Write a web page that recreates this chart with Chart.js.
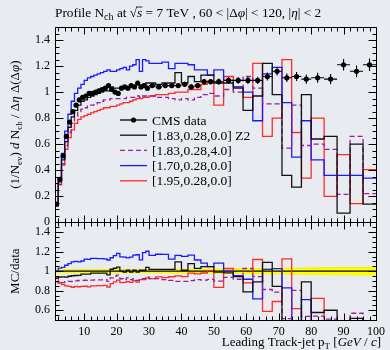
<!DOCTYPE html>
<html>
<head>
<meta charset="utf-8">
<script src="https://cdn.jsdelivr.net/npm/chart.js@4"></script>
<style>
  html, body { margin: 0; padding: 0; background: #e8ecf0; }
  #plot { display: block; }
</style>
</head>
<body>
<canvas id="plot" width="390" height="350"></canvas>
<script>
// leading track-jet pT bins (GeV/c)
const binEdges = [1, 2, 3, 4, 5, 6, 7, 8, 9, 10, 11, 12, 13, 14, 15, 16, 17, 18, 19, 20,
  21, 22, 23, 24, 25, 26, 27, 28, 29, 30, 32, 34, 36, 38, 40, 42, 44, 46, 48, 50,
  53, 56, 59, 62, 65, 68, 71, 74, 77, 80, 84, 88, 92, 96, 100];

// CMS profile and its uncertainty
const cmsData = [0.14, 0.33, 0.51, 0.66, 0.77, 0.85, 0.90, 0.94, 0.96, 0.97,
  0.99, 0.99, 1.00, 1.01, 1.02, 1.03, 1.05, 1.02, 1.00, 0.99,
  1.03, 1.04, 1.03, 1.05, 1.04, 1.07, 1.04, 1.05, 1.03,
  1.05, 1.04, 1.05, 1.05, 1.05, 1.06, 1.04, 1.05, 1.08, 1.08,
  1.08, 1.09, 1.09, 1.09, 1.09, 1.12, 1.16, 1.11, 1.12, 1.10,
  1.11, 1.10, 1.21, 1.16, 1.21];
const cmsErr = [0.002, 0.005, 0.008, 0.010, 0.012, 0.013, 0.014, 0.014, 0.015, 0.015,
  0.015, 0.015, 0.016, 0.016, 0.016, 0.016, 0.017, 0.016, 0.016, 0.016,
  0.017, 0.017, 0.017, 0.017, 0.017, 0.018, 0.018, 0.018, 0.018,
  0.018, 0.018, 0.019, 0.019, 0.019, 0.020, 0.020, 0.020, 0.021, 0.021,
  0.024, 0.025, 0.026, 0.027, 0.028, 0.030, 0.032, 0.033, 0.034, 0.035,
  0.038, 0.040, 0.045, 0.045, 0.048];

// MC predictions
const z2 = [0.13, 0.31, 0.48, 0.62, 0.73, 0.81, 0.86, 0.90, 0.93, 0.94,
  0.96, 0.97, 0.98, 0.99, 1.00, 1.01, 1.01, 1.04, 1.03, 1.03,
  1.03, 1.03, 1.04, 1.04, 1.05, 1.06, 1.05, 1.06, 1.07,
  1.07, 1.06, 1.07, 1.07, 1.15, 1.07, 1.12, 1.08, 1.13, 1.13,
  1.07, 1.07, 1.03, 0.86, 0.97, 1.22, 0.98, 0.36, 0.27, 0.98,
  0.64, 0.66, 0.07, 0.60, 0.14];
const z2Pt4 = [0.125, 0.29, 0.45, 0.59, 0.69, 0.76, 0.81, 0.85, 0.87, 0.88,
  0.90, 0.90, 0.91, 0.92, 0.93, 0.94, 0.94, 0.95, 0.95, 0.95,
  0.95, 0.95, 0.96, 0.96, 0.96, 0.97, 0.96, 0.97, 0.97,
  0.97, 0.96, 0.96, 0.95, 0.94, 0.95, 0.94, 0.96, 0.98, 0.99,
  0.97, 1.02, 1.00, 1.12, 1.03, 0.91, 0.91, 0.57, 0.90, 0.59,
  0.60, 0.56, 0.215, 0.66, 0.22];
const tune170 = [0.14, 0.34, 0.53, 0.70, 0.83, 0.93, 0.99, 1.03, 1.06, 1.09,
  1.11, 1.12, 1.13, 1.14, 1.15, 1.16, 1.17, 1.16, 1.16, 1.17,
  1.18, 1.19, 1.17, 1.20, 1.21, 1.25, 1.16, 1.25, 1.24,
  1.22, 1.22, 1.23, 1.18, 1.22, 1.22, 1.21, 1.17, 1.17, 1.13,
  1.17, 1.09, 1.04, 1.00, 0.78, 1.14, 1.19, 0.92, 0.50, 0.78,
  0.48, 0.36, 0.36, 0.36, 0.34];
const tune195 = [0.13, 0.29, 0.44, 0.56, 0.65, 0.71, 0.76, 0.79, 0.81, 0.82,
  0.83, 0.84, 0.85, 0.86, 0.87, 0.88, 0.88, 0.89, 0.89, 0.90,
  0.91, 0.92, 0.92, 0.93, 0.94, 0.95, 0.95, 0.96, 0.96,
  0.97, 0.98, 0.98, 0.99, 1.00, 1.00, 1.02, 1.02, 1.06, 1.085,
  0.90, 1.12, 1.04, 0.96, 1.22, 0.66, 0.80, 1.25, 0.69, 0.34,
  0.80, 0.20, 0.52, 0.144, 0.405];

const xTicks = [10, 20, 30, 40, 50, 60, 70, 80, 90, 100];
const yTicks = [0, 0.2, 0.4, 0.6, 0.8, 1, 1.2, 1.4];
const ratioTicks = [0.6, 0.8, 1, 1.2, 1.4];

const serif = '"Liberation Serif", "DejaVu Serif", serif';
const bg = '#e8ecf0';

const mcSeries = [
  { label: '[1.83,0.28,0.0] Z2', values: z2, color: '#111111', dash: [] },
  { label: '[1.83,0.28,4.0]', values: z2Pt4, color: '#9a1f9a', dash: [5, 3] },
  { label: '[1.70,0.28,0.0]', values: tune170, color: '#1a1aff', dash: [] },
  { label: '[1.95,0.28,0.0]', values: tune195, color: '#ff2a2a', dash: [] }
];

const centers = binEdges.slice(0, -1).map((lo, i) => (lo + binEdges[i + 1]) / 2);

// points on the left bin edges plus a closing point, drawn with stepped lines
function stepLine(values) {
  const pts = values.map((v, i) => ({ x: binEdges[i], y: v }));
  pts.push({ x: binEdges[binEdges.length - 1], y: values[values.length - 1] });
  return pts;
}
const overData = values => values.map((v, i) => v / cmsData[i]);

const datasets = [];
datasets.push({
  legendText: 'CMS data', isData: true,
  data: centers.map((x, i) => ({ x: x, y: cmsData[i] })),
  yAxisID: 'y', showLine: false, order: 0,
  pointRadius: 2.6, pointBackgroundColor: '#000', pointBorderWidth: 0,
  borderColor: '#000'
});
mcSeries.forEach((s, k) => {
  datasets.push({
    legendText: s.label,
    data: stepLine(s.values), yAxisID: 'y', stepped: 'before',
    borderColor: s.color, borderWidth: 1.3, borderDash: s.dash,
    pointRadius: 0, fill: false, order: 1 + k
  });
});
// data uncertainty band in the ratio panel
datasets.push({
  data: stepLine(cmsData.map((d, i) => 1 + cmsErr[i] / d)), yAxisID: 'yRatio', stepped: 'before',
  borderColor: '#f2f200', borderWidth: 1, pointRadius: 0,
  fill: '+1', backgroundColor: '#ffff00', order: 20
});
datasets.push({
  data: stepLine(cmsData.map((d, i) => 1 - cmsErr[i] / d)), yAxisID: 'yRatio', stepped: 'before',
  borderColor: '#f2f200', borderWidth: 1, pointRadius: 0, fill: false, order: 21
});
datasets.push({
  data: stepLine(overData(cmsData)), yAxisID: 'yRatio', stepped: 'before',
  borderColor: '#000', borderWidth: 1.3, pointRadius: 0, fill: false, order: 15
});
mcSeries.forEach((s, k) => {
  datasets.push({
    data: stepLine(overData(s.values)), yAxisID: 'yRatio', stepped: 'before',
    borderColor: s.color, borderWidth: 1.3, borderDash: s.dash,
    pointRadius: 0, fill: false, order: 5 + k
  });
});

// text made of plain, italic and subscript pieces
function fontFor(p, size) {
  const st = p[1] || '';
  const sz = st.includes('s') ? Math.round(size * 0.72) : size;
  return (st.includes('i') ? 'italic ' : '') + sz + 'px ' + serif;
}
function richWidth(ctx, parts, size) {
  let w = 0;
  parts.forEach(p => {
    ctx.font = fontFor(p, size);
    w += ctx.measureText(p[0]).width;
  });
  return w;
}
function drawRich(ctx, parts, x, y, size, align) {
  let cx = x;
  if (align === 'center') cx -= richWidth(ctx, parts, size) / 2;
  if (align === 'right') cx -= richWidth(ctx, parts, size);
  ctx.textBaseline = 'alphabetic';
  ctx.textAlign = 'left';
  parts.forEach(p => {
    const st = p[1] || '';
    ctx.font = fontFor(p, size);
    const w = ctx.measureText(p[0]).width;
    const dy = st.includes('s') ? size * 0.25 : 0;
    ctx.fillText(p[0], cx, y + dy);
    if (st.includes('o')) {
      ctx.fillRect(cx - 1, y - size * 0.78, w + 1, 0.8);
    }
    cx += w;
  });
}

const titleParts = [['Profile N'], ['ch', 's'], [' at \u221A'], ['s', 'io'], [' = 7 TeV , 60 < |\u0394'],
  ['\u03C6', 'i'], ['| < 120, |'], ['\u03B7', 'i'], ['| < 2']];
const yTitleParts = [['(1/N'], ['ev', 's'], [') '], ['d', 'i'], [' N'], ['ch', 's'], [' / \u0394'],
  ['\u03B7', 'i'], [' \u0394(\u0394'], ['\u03C6', 'i'], [')']];
const xTitleParts = [['Leading Track-jet p'], ['T', 's'], [' ['], ['GeV', 'i'], [' / '], ['c', 'i'], [']']];

const backgroundPlugin = {
  id: 'paper',
  beforeDraw(chart) {
    const ctx = chart.ctx;
    ctx.save();
    ctx.fillStyle = bg;
    ctx.fillRect(0, 0, chart.width, chart.height);
    ctx.restore();
  }
};

// error bars, frames, inward ticks, legend and titles
const decorPlugin = {
  id: 'decor',
  afterDatasetsDraw(chart) {
    const { ctx, chartArea: ca, scales } = chart;
    const xs = scales.x, ys = scales.y;
    ctx.save();
    ctx.strokeStyle = '#000';
    ctx.lineWidth = 1.1;
    ctx.beginPath();
    centers.forEach((c, i) => {
      const px = xs.getPixelForValue(c);
      const py = ys.getPixelForValue(cmsData[i]);
      ctx.moveTo(xs.getPixelForValue(binEdges[i]), py);
      ctx.lineTo(xs.getPixelForValue(binEdges[i + 1]), py);
      ctx.moveTo(px, ys.getPixelForValue(cmsData[i] - cmsErr[i]));
      ctx.lineTo(px, ys.getPixelForValue(cmsData[i] + cmsErr[i]));
    });
    ctx.stroke();

    ctx.lineWidth = 1;
    const left = Math.round(ca.left) + 0.5, right = Math.round(ca.right) + 0.5;
    [[scales.y, yTicks], [scales.yRatio, ratioTicks]].forEach(([sc, majors]) => {
      const top = Math.round(sc.top) + 0.5, bottom = Math.round(sc.bottom) + 0.5;
      ctx.strokeRect(left, top, right - left, bottom - top);
      ctx.beginPath();
      for (let v = 2; v <= 100; v += 2) {
        const len = v % 10 === 0 ? 7 : 4;
        const px = Math.round(xs.getPixelForValue(v)) + 0.5;
        ctx.moveTo(px, bottom); ctx.lineTo(px, bottom - len);
        ctx.moveTo(px, top); ctx.lineTo(px, top + len);
      }
      const n = Math.round((sc.max - sc.min) / 0.05);
      for (let k = 1; k < n; k++) {
        const v = sc.min + k * 0.05;
        const major = majors.some(m => Math.abs(m - v) < 1e-6);
        const len = major ? 8 : 4;
        const py = Math.round(sc.getPixelForValue(v)) + 0.5;
        ctx.moveTo(left, py); ctx.lineTo(left + len, py);
        ctx.moveTo(right, py); ctx.lineTo(right - len, py);
      }
      ctx.stroke();
    });

    // legend
    const rows = chart.data.datasets.filter(d => d.legendText);
    rows.forEach((d, i) => {
      const y = 120 + i * 15.2;
      ctx.beginPath();
      ctx.strokeStyle = d.borderColor;
      ctx.lineWidth = 1.3;
      ctx.setLineDash(d.borderDash || []);
      ctx.moveTo(120, y);
      ctx.lineTo(147, y);
      ctx.stroke();
      ctx.setLineDash([]);
      if (d.isData) {
        ctx.fillStyle = '#000';
        ctx.beginPath();
        ctx.arc(133.5, y, 2.6, 0, Math.PI * 2);
        ctx.fill();
      }
      ctx.fillStyle = '#000';
      ctx.font = '13.5px ' + serif;
      ctx.textBaseline = 'middle';
      ctx.fillText(d.legendText, 152, y + 1);
    });

    ctx.fillStyle = '#000';
    drawRich(ctx, titleParts, 55, 17, 13.3, 'left');
    drawRich(ctx, xTitleParts, 381, 346, 13, 'right');
    ctx.save();
    ctx.translate(19, (scales.y.top + scales.y.bottom) / 2);
    ctx.rotate(-Math.PI / 2);
    drawRich(ctx, yTitleParts, 0, 0, 13, 'center');
    ctx.restore();
    ctx.save();
    ctx.translate(19, (scales.yRatio.top + scales.yRatio.bottom) / 2);
    ctx.rotate(-Math.PI / 2);
    drawRich(ctx, [['MC/data']], 0, 0, 13, 'center');
    ctx.restore();
    ctx.restore();
  }
};

const tickFont = { family: serif, size: 12 };
const fmt = v => String(Math.round(v * 10) / 10);
const yCommon = {
  type: 'linear', position: 'left', stack: 'panels',
  grid: { display: false, drawTicks: false }, border: { display: false },
  ticks: { font: tickFont, color: '#000', padding: 5, callback: fmt, autoSkip: false },
  afterFit: s => { s.width = 55; }
};

new Chart(document.getElementById('plot'), {
  type: 'line',
  data: { datasets: datasets },
  options: {
    responsive: false,
    animation: false,
    events: [],
    layout: { padding: { top: 27, right: 9, bottom: 0, left: 0 } },
    plugins: { legend: { display: false }, tooltip: { enabled: false } },
    scales: {
      x: {
        type: 'linear', min: 1, max: 100, position: 'bottom',
        grid: { display: false, drawTicks: false }, border: { display: false },
        ticks: { font: tickFont, color: '#000', padding: 5, maxRotation: 0, autoSkip: false, callback: v => String(v) },
        afterBuildTicks: s => { s.ticks = xTicks.map(v => ({ value: v })); },
        afterFit: s => { s.height = 30; }
      },
      y: Object.assign({}, yCommon, {
        min: 0, max: 1.5, stackWeight: 2, weight: 1,
        afterBuildTicks: s => { s.ticks = yTicks.map(v => ({ value: v })); }
      }),
      yRatio: Object.assign({}, yCommon, {
        min: 0.5, max: 1.5, stackWeight: 1, weight: 0,
        afterBuildTicks: s => { s.ticks = ratioTicks.map(v => ({ value: v })); }
      })
    }
  },
  plugins: [backgroundPlugin, decorPlugin]
});
</script>
</body>
</html>
